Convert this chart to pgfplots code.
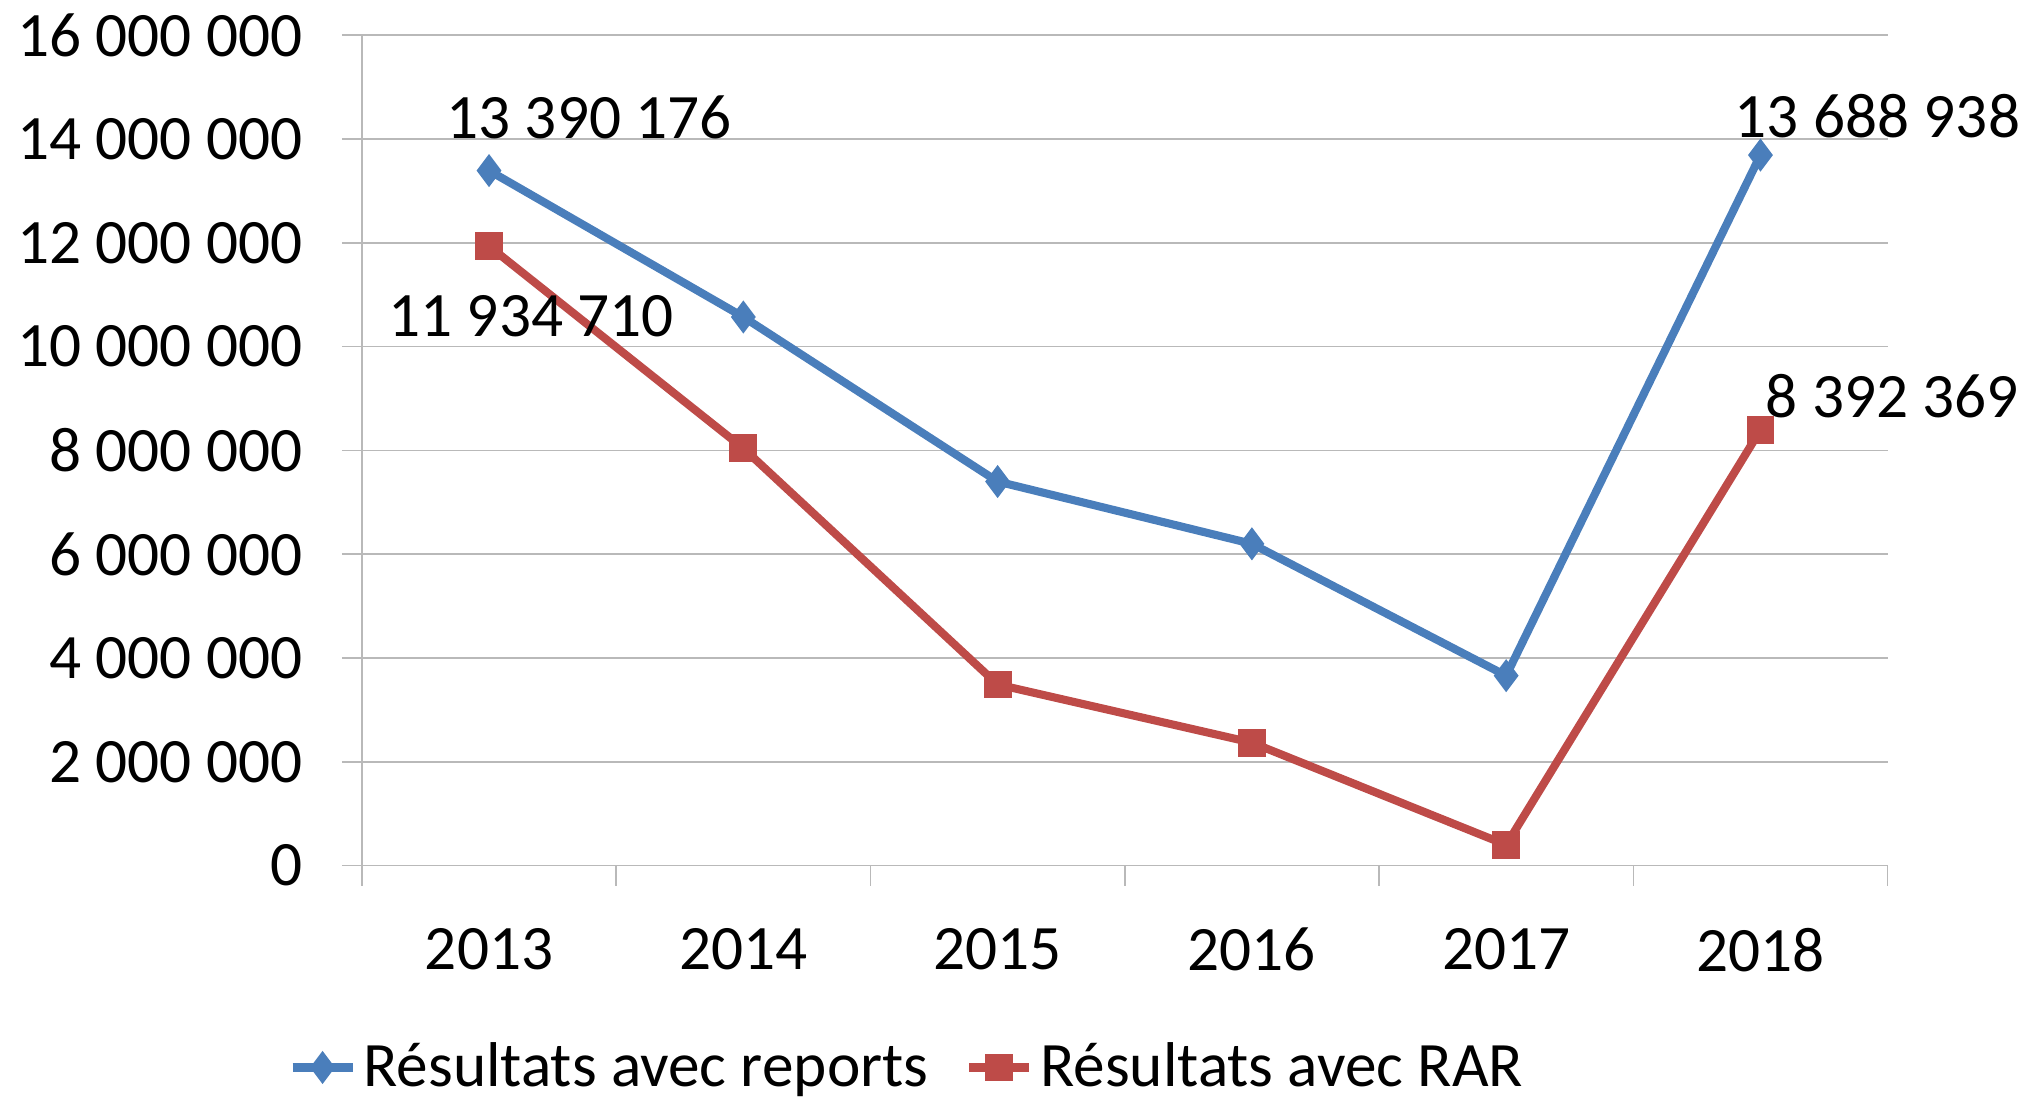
\documentclass[border=0pt]{standalone}
\usepackage{fontspec}
\setmainfont{Carlito}
\usepackage{pgfplots}
\pgfplotsset{compat=1.18}
\definecolor{cblue}{HTML}{4A7EBB}
\definecolor{cred}{HTML}{BE4B48}
\definecolor{cgrid}{HTML}{B9B9B9}
\newcommand\f{\fontsize{18}{21.6}\selectfont}
\begin{document}
\begin{tikzpicture}[font=\f]
\path[use as bounding box] (-36.19mm,-23.34mm) rectangle (167.9mm,86.56mm);
\begin{axis}[
 scale only axis, width=152.56mm, height=83.05mm,
 xmin=-0.5, xmax=5.5, ymin=0, ymax=16000000,
 axis lines=left, axis line style={-, draw=cgrid, line width=0.45pt},
 xtick={-0.5,0.5,1.5,2.5,3.5,4.5,5.5}, xticklabels={},
 extra x ticks={0,1,2,3,4,5},
 extra x tick labels={2013,2014,2015,2016,2017,2018},
 extra x tick style={tick style={draw=none}, grid=none},
 tick align=outside, major tick length=2mm,
 tick style={draw=cgrid, line width=0.45pt},
 ytick={0,2000000,4000000,6000000,8000000,10000000,12000000,14000000,16000000},
 yticklabels={0,2 000 000,4 000 000,6 000 000,8 000 000,10 000 000,12 000 000,14 000 000,16 000 000},
 scaled y ticks=false,
 ymajorgrids, grid style={draw=cgrid, line width=0.45pt},
 xticklabel style={font=\f, yshift=-3.0mm},
 yticklabel style={font=\f, xshift=-2.7mm},
 legend style={at={(0.3588,-0.243)}, anchor=center, draw=none, fill=none, font=\f,
   legend columns=-1, /tikz/every even column/.append style={column sep=3mm}},
 legend cell align=left,
 clip=false,
]
\addplot[cblue, line width=2.3pt, mark=diamond*, mark size=4.3pt, mark options={solid, line width=0.5pt}]
 coordinates {(0,13390176)(1,10570000)(2,7400000)(3,6200000)(4,3660000)(5,13688938)};
\addlegendentry{Résultats avec reports}
\addplot[cred, line width=2.3pt, mark=square*, mark size=3.7pt, mark options={solid, line width=0.5pt}]
 coordinates {(0,11934710)(1,8040000)(2,3490000)(3,2370000)(4,400000)(5,8392369)};
\addlegendentry{Résultats avec RAR}
\node[xshift=10mm, yshift=5.3mm] at (axis cs:0,13390176) {13 390 176};
\node[xshift=4.2mm, yshift=-7.0mm] at (axis cs:0,11934710) {11 934 710};
\node[xshift=11.7mm, yshift=3.9mm] at (axis cs:5,13688938) {13 688 938};
\node[xshift=13.2mm, yshift=3.4mm] at (axis cs:5,8392369) {8 392 369};
\end{axis}
\end{tikzpicture}
\end{document}
